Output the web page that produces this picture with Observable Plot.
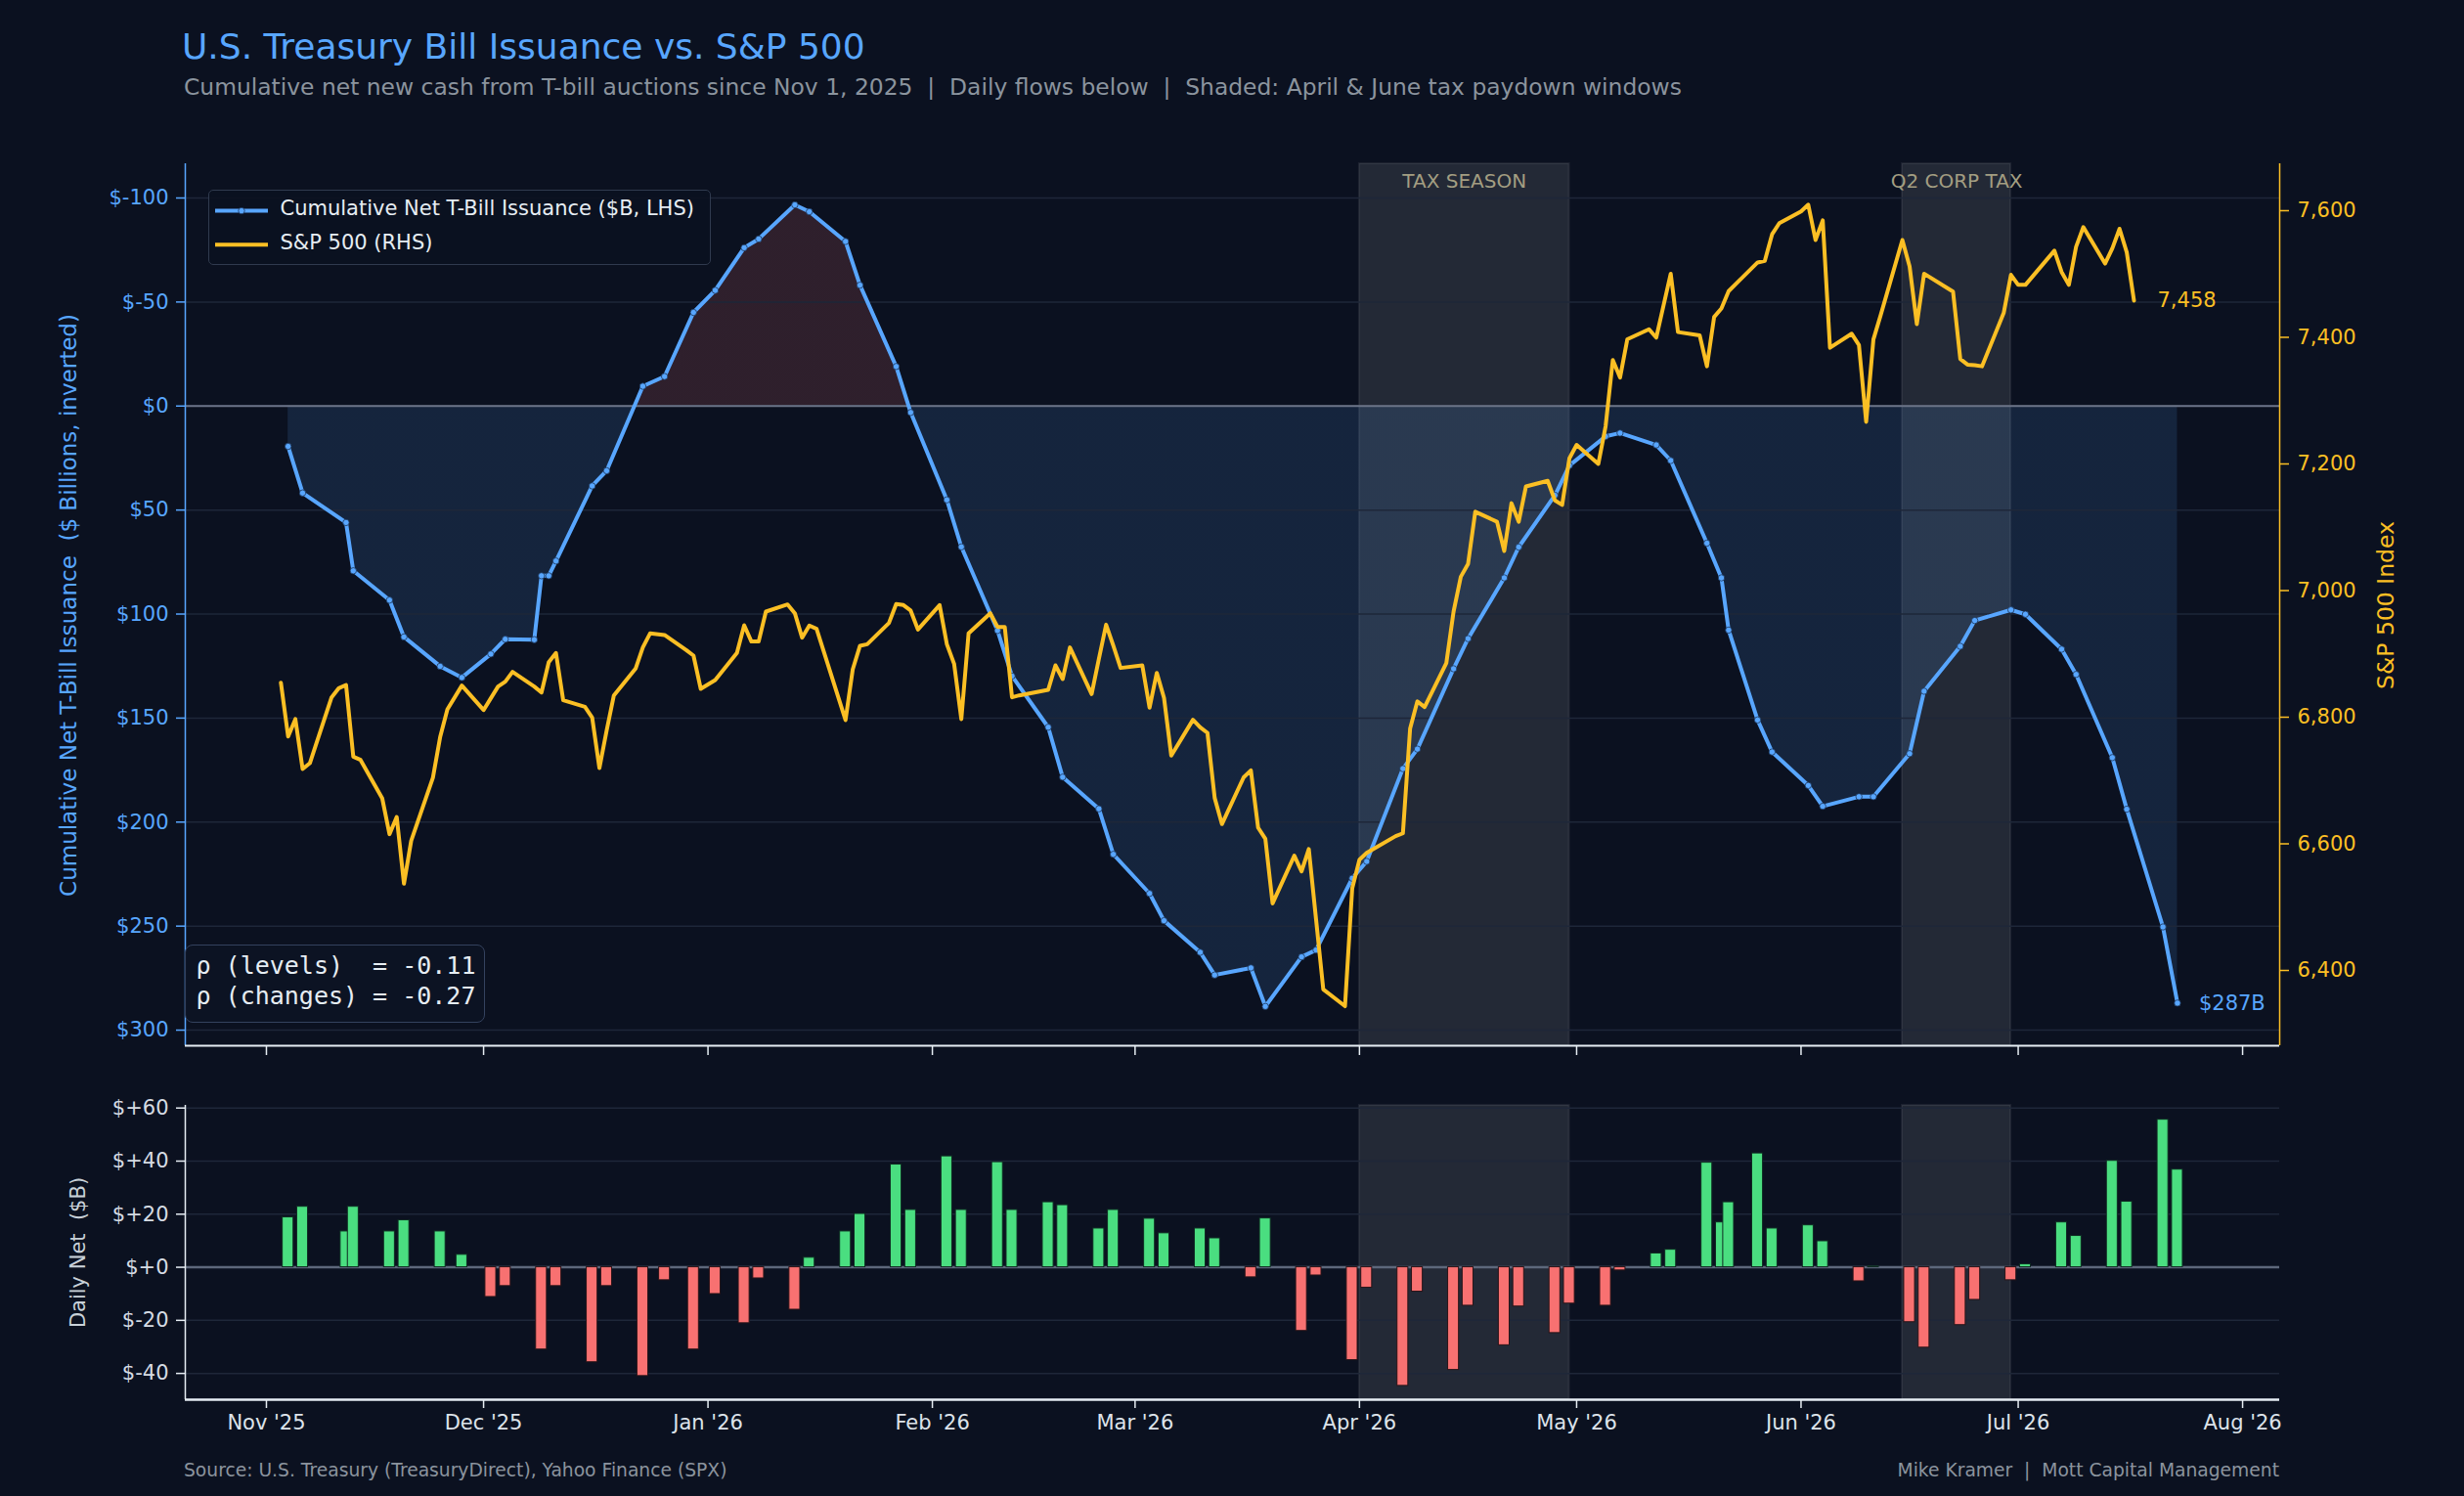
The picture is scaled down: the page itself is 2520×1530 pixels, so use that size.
<!DOCTYPE html>
<html>
<head>
<meta charset="utf-8">
<script src="https://cdn.jsdelivr.net/npm/d3@7"></script>
<script src="https://cdn.jsdelivr.net/npm/@observablehq/plot@0.6"></script>
<style>
html, body { margin: 0; padding: 0; background: #0b1120; }
#page { position: relative; width: 2520px; height: 1530px; overflow: hidden; background: #0b1120; font-family: "DejaVu Sans", sans-serif; }
.abs { position: absolute; white-space: nowrap; }
.panel { position: absolute; left: 0; }
.rot { position: absolute; white-space: nowrap; transform: translate(-50%, -50%) rotate(-90deg); }
</style>
</head>
<body>
<div id="page">
  <div class="abs" style="left:186px;top:30px;font-size:36px;line-height:36px;color:#58a6ff;">U.S. Treasury Bill Issuance vs. S&amp;P 500</div>
  <div class="abs" style="left:188px;top:78.3px;font-size:23.4px;line-height:23.4px;color:#8b949e;white-space:pre;">Cumulative net new cash from T-bill auctions since Nov 1, 2025  |  Daily flows below  |  Shaded: April &amp; June tax paydown windows</div>

  <div id="upper" class="panel" style="top:120px;"></div>
  <div id="overlay" class="panel" style="top:120px;"></div>
  <div id="lower" class="panel" style="top:1100px;"></div>

  <div class="rot" style="left:70px;top:619px;font-size:23px;line-height:23px;color:#58a6ff;white-space:pre;">Cumulative Net T-Bill Issuance  ($ Billions, inverted)</div>
  <div class="rot" style="left:2441px;top:619px;font-size:23.5px;line-height:23.5px;color:#fbbf24;">S&amp;P 500 Index</div>
  <div class="rot" style="left:80px;top:1281px;font-size:21px;line-height:21px;color:#c9d1d9;white-space:pre;">Daily Net  ($B)</div>

  <div class="abs" style="left:213px;top:194px;width:514px;height:77px;box-sizing:border-box;border:1.5px solid #303a4e;border-radius:5px;background:rgba(11,17,32,0.93);">
    <svg style="position:absolute;left:4.5px;top:9px;" width="56" height="24">
      <line x1="1" y1="11.6" x2="55" y2="11.6" stroke="#58a6ff" stroke-width="4"/>
      <circle cx="28" cy="11.6" r="3.2" fill="#58a6ff" stroke="#1d3557" stroke-width="0.8"/>
    </svg>
    <svg style="position:absolute;left:4.5px;top:43px;" width="56" height="24">
      <line x1="1" y1="12.3" x2="55" y2="12.3" stroke="#fbbf24" stroke-width="4"/>
    </svg>
    <div class="abs" style="left:72.5px;top:8px;font-size:21px;line-height:21px;color:#e6edf3;">Cumulative Net T-Bill Issuance ($B, LHS)</div>
    <div class="abs" style="left:72.5px;top:42.5px;font-size:21px;line-height:21px;color:#e6edf3;">S&amp;P 500 (RHS)</div>
  </div>

  <div class="abs" style="left:189px;top:966px;width:307px;height:80px;box-sizing:border-box;border:1.5px solid #34425e;border-radius:8px;background:rgba(13,19,35,0.93);">
    <div class="abs" style="left:10.5px;top:4.8px;font-family:'DejaVu Sans Mono',monospace;font-size:25px;line-height:31.5px;color:#e6edf3;white-space:pre;">ρ (levels)  = -0.11
ρ (changes) = -0.27</div>
  </div>

  <div class="abs" style="left:188px;top:1495px;font-size:18.7px;line-height:18.7px;color:#8b949e;">Source: U.S. Treasury (TreasuryDirect), Yahoo Finance (SPX)</div>
  <div class="abs" style="right:189px;top:1495px;font-size:18.7px;line-height:18.7px;color:#8b949e;white-space:pre;">Mike Kramer  |  Mott Capital Management</div>
</div>

<script>
// ---------------- DATA ----------------
// Auction dates (cumulative net T-bill issuance, $B)
const cumDates = [
  "2025-11-04","2025-11-06","2025-11-12","2025-11-13","2025-11-18","2025-11-20","2025-11-25","2025-11-28",
  "2025-12-02","2025-12-04","2025-12-08","2025-12-09","2025-12-10","2025-12-11","2025-12-16","2025-12-18","2025-12-23","2025-12-26","2025-12-30",
  "2026-01-02","2026-01-06","2026-01-08","2026-01-13","2026-01-15","2026-01-20","2026-01-22","2026-01-27","2026-01-29",
  "2026-02-03","2026-02-05","2026-02-10","2026-02-12","2026-02-17","2026-02-19","2026-02-24","2026-02-26",
  "2026-03-03","2026-03-05","2026-03-10","2026-03-12","2026-03-17","2026-03-19","2026-03-24","2026-03-26","2026-03-31",
  "2026-04-02","2026-04-07","2026-04-09","2026-04-14","2026-04-16","2026-04-21","2026-04-23","2026-04-28","2026-04-30",
  "2026-05-05","2026-05-07","2026-05-12","2026-05-14","2026-05-19","2026-05-21","2026-05-22","2026-05-26","2026-05-28",
  "2026-06-02","2026-06-04","2026-06-09","2026-06-11","2026-06-16","2026-06-18","2026-06-23","2026-06-25","2026-06-30",
  "2026-07-02","2026-07-07","2026-07-09","2026-07-14","2026-07-16","2026-07-21","2026-07-23"
];
const cumValues = [
  19.4,41.8,56.0,79.2,93.3,111.0,125.1,130.5,
  119.2,112.1,112.3,81.6,81.6,74.5,38.4,31.1,-9.5,-14.2,-45.0,
  -55.6,-76.1,-80.3,-96.7,-93.4,-79.1,-58.1,-19.0,3.1,
  45.1,67.7,107.9,129.8,154.4,178.4,193.6,215.5,
  234.3,247.4,262.6,273.5,270.1,288.6,264.8,261.5,227.0,
  218.9,174.3,164.9,126.3,111.8,82.6,67.8,42.9,28.6,
  14.6,13.0,18.7,26.2,65.9,82.6,107.7,150.9,166.3,
  182.4,192.4,187.8,187.8,167.1,137.1,115.5,103.1,98.0,
  100.1,116.9,129.0,169.0,193.8,250.4,287.0
];

// Daily net flows ($B)
const flowDates = [
  "2025-11-04","2025-11-06","2025-11-12","2025-11-13","2025-11-18","2025-11-20","2025-11-25","2025-11-28",
  "2025-12-02","2025-12-04","2025-12-09","2025-12-11","2025-12-16","2025-12-18","2025-12-23","2025-12-26","2025-12-30",
  "2026-01-02","2026-01-06","2026-01-08","2026-01-13","2026-01-15","2026-01-20","2026-01-22","2026-01-27","2026-01-29",
  "2026-02-03","2026-02-05","2026-02-10","2026-02-12","2026-02-17","2026-02-19","2026-02-24","2026-02-26",
  "2026-03-03","2026-03-05","2026-03-10","2026-03-12","2026-03-17","2026-03-19","2026-03-24","2026-03-26","2026-03-31",
  "2026-04-02","2026-04-07","2026-04-09","2026-04-14","2026-04-16","2026-04-21","2026-04-23","2026-04-28","2026-04-30",
  "2026-05-05","2026-05-07","2026-05-12","2026-05-14","2026-05-19","2026-05-21","2026-05-22","2026-05-26","2026-05-28",
  "2026-06-02","2026-06-04","2026-06-09","2026-06-11","2026-06-16","2026-06-18","2026-06-23","2026-06-25","2026-06-30",
  "2026-07-02","2026-07-07","2026-07-09","2026-07-14","2026-07-16","2026-07-21","2026-07-23"
];
const flowValues = [
  18.8,22.8,13.5,22.8,13.5,17.7,13.5,4.7,
  -11.2,-7.1,-31.0,-7.1,-35.8,-7.1,-41.0,-4.9,-31.0,
  -10.1,-21.1,-4.2,-16.0,3.6,13.5,20.1,38.7,21.6,
  41.8,21.6,39.6,21.6,24.5,23.4,14.6,21.6,
  18.3,12.8,14.6,10.9,-3.8,18.4,-24.0,-3.1,-35.0,
  -7.7,-44.7,-9.2,-38.7,-14.5,-29.4,-14.8,-24.8,-13.7,
  -14.5,-1.2,5.2,6.6,39.4,16.9,24.5,42.9,14.6,
  15.8,9.8,-5.3,0.3,-20.7,-30.3,-21.8,-12.3,-4.9,
  1.1,16.9,11.8,40.1,24.7,55.6,36.8
];

// S&P 500 daily close
const spxDates = [
  "2025-11-03","2025-11-04","2025-11-05","2025-11-06","2025-11-07","2025-11-10","2025-11-11","2025-11-12","2025-11-13","2025-11-14","2025-11-17","2025-11-18","2025-11-19","2025-11-20","2025-11-21","2025-11-24","2025-11-25","2025-11-26","2025-11-28",
  "2025-12-01","2025-12-02","2025-12-03","2025-12-04","2025-12-05","2025-12-08","2025-12-09","2025-12-10","2025-12-11","2025-12-12","2025-12-15","2025-12-16","2025-12-17","2025-12-18","2025-12-19","2025-12-22","2025-12-23","2025-12-24","2025-12-26","2025-12-29","2025-12-30","2025-12-31",
  "2026-01-02","2026-01-05","2026-01-06","2026-01-07","2026-01-08","2026-01-09","2026-01-12","2026-01-13","2026-01-14","2026-01-15","2026-01-16","2026-01-20","2026-01-21","2026-01-22","2026-01-23","2026-01-26","2026-01-27","2026-01-28","2026-01-29","2026-01-30",
  "2026-02-02","2026-02-03","2026-02-04","2026-02-05","2026-02-06","2026-02-09","2026-02-10","2026-02-11","2026-02-12","2026-02-13","2026-02-17","2026-02-18","2026-02-19","2026-02-20","2026-02-23","2026-02-24","2026-02-25","2026-02-26","2026-02-27",
  "2026-03-02","2026-03-03","2026-03-04","2026-03-05","2026-03-06","2026-03-09","2026-03-10","2026-03-11","2026-03-12","2026-03-13","2026-03-16","2026-03-17","2026-03-18","2026-03-19","2026-03-20","2026-03-23","2026-03-24","2026-03-25","2026-03-26","2026-03-27","2026-03-30","2026-03-31",
  "2026-04-01","2026-04-02","2026-04-06","2026-04-07","2026-04-08","2026-04-09","2026-04-10","2026-04-13","2026-04-14","2026-04-15","2026-04-16","2026-04-17","2026-04-20","2026-04-21","2026-04-22","2026-04-23","2026-04-24","2026-04-27","2026-04-28","2026-04-29","2026-04-30",
  "2026-05-01","2026-05-04","2026-05-05","2026-05-06","2026-05-07","2026-05-08","2026-05-11","2026-05-12","2026-05-13","2026-05-14","2026-05-15","2026-05-18","2026-05-19","2026-05-20","2026-05-21","2026-05-22","2026-05-26","2026-05-27","2026-05-28","2026-05-29",
  "2026-06-01","2026-06-02","2026-06-03","2026-06-04","2026-06-05","2026-06-08","2026-06-09","2026-06-10","2026-06-11","2026-06-12","2026-06-15","2026-06-16","2026-06-17","2026-06-18","2026-06-22","2026-06-23","2026-06-24","2026-06-25","2026-06-26","2026-06-29","2026-06-30",
  "2026-07-01","2026-07-02","2026-07-06","2026-07-07","2026-07-08","2026-07-09","2026-07-10","2026-07-13","2026-07-14","2026-07-15","2026-07-16","2026-07-17"
];
const spxValues = [
  6854.6,6769.6,6797,6718.2,6727.4,6831.4,6845.8,6851,6737.7,6732.6,6671.8,6615.2,6642.5,6537,6604.9,6704.3,6768.6,6812.4,6850,
  6811.3,6829.9,6848.4,6856.1,6871.6,6848.4,6839.1,6887,6901.4,6826.8,6816.5,6799.5,6719.7,6778.9,6834.5,6876.7,6910.2,6932.3,6929.8,6906,6897.3,6844.8,
  6858.7,6901.4,6945.2,6919.5,6919.5,6966.8,6978.1,6964.2,6925.6,6944.7,6939.5,6795.4,6875.7,6912.8,6915.3,6948.8,6978.7,6977.1,6968.4,6938.5,
  6977.1,6915.3,6884.4,6797,6932.3,6964.2,6942.6,6942.6,6831.4,6834.5,6843.3,6881.9,6860.3,6910.2,6836.6,6892.2,6946.2,6912.8,6877.8,
  6881.9,6815,6870,6830.4,6739.3,6795.9,6784.1,6775.3,6672.4,6631.2,6705,6716,6625.5,6607.8,6505.9,6581.3,6556.4,6591.8,6481,6370.2,6343.6,6529.8,
  6575,6585.6,6612.2,6616.6,6782.4,6825,6816.1,6885.5,6966.8,7021.8,7042.2,7124.6,7108.7,7062.6,7138,7108.7,7164.5,7173.4,7142.4,7135.3,7208.9,
  7230.1,7200,7259.4,7364,7336.5,7396.8,7412.7,7399.5,7450,7500.5,7408.3,7403,7354.2,7432.3,7445.5,7473,7518.2,7520.9,7562.6,7580.3,
  7598.9,7609.5,7553.7,7584.7,7383.5,7405.7,7387.9,7266.5,7396.8,7434.9,7553.7,7512,7420.7,7500.5,7472.1,7365.8,7356.9,7356,7354.2,7438.5,7498.7,
  7482.8,7482.8,7536.9,7503.2,7482.8,7543.1,7574.1,7516.5,7540.4,7571.4,7534.2,7458
];

// Shaded tax windows
const spanStarts = ["2026-04-01", "2026-06-15"];
const spanEnds = ["2026-04-30", "2026-06-30"];
const spanLabels = ["TAX SEASON", "Q2 CORP TAX"];

// Tick values
const monthTicks = ["2025-11-01","2025-12-01","2026-01-01","2026-02-01","2026-03-01","2026-04-01","2026-05-01","2026-06-01","2026-07-01","2026-08-01"];
const cumTicks = [-100, -50, 0, 50, 100, 150, 200, 250, 300];
const spxTicks = [6400, 6600, 6800, 7000, 7200, 7400, 7600];
const flowTicks = [-40, -20, 0, 20, 40, 60];

// ---------------- BUILD ----------------
const parse = d3.utcParse("%Y-%m-%d");
const DAY = 864e5;
const BG = "#0b1120", BLUE = "#58a6ff", GOLD = "#fbbf24", GREEN = "#4ade80", RED = "#f87171", GRID = "#1e2739", AXIS = "#e6edf3";

const cum = cumDates.map((d, i) => ({date: parse(d), value: cumValues[i]}));
const flows = flowDates.map((d, i) => ({date: parse(d), value: flowValues[i]}));
const spx = spxDates.map((d, i) => ({date: parse(d), value: spxValues[i]}));
const spans = spanStarts.map((s, i) => {
  const a = parse(s), b = parse(spanEnds[i]);
  return {start: a, end: b, mid: new Date((+a + +b) / 2), label: spanLabels[i]};
});
const months = monthTicks.map(parse);

// scale domains (axis limits)
const xDomain = [new Date(Date.UTC(2025, 9, 20, 19)), new Date(Date.UTC(2026, 7, 6, 3))];
const yCum = [-116.45, 307.5];
const ySpx = [6281.1, 7674.1];
const yFlow = [-49.9, 61.0];

const W = 2520, ML = 189, MR = 189;
const UH = 980, UMT = 47, UMB = 31;
const LH = 390, LMT = 30, LMB = 59;
const baseStyle = {background: "transparent", fontFamily: "DejaVu Sans, sans-serif", fontSize: "21px", overflow: "visible"};

const upper = Plot.plot({
  width: W, height: UH, marginLeft: ML, marginRight: MR, marginTop: UMT, marginBottom: UMB,
  style: {...baseStyle, color: BLUE},
  x: {type: "utc", domain: xDomain, axis: null, label: null},
  y: {domain: yCum, reverse: true, axis: null, label: null},
  marks: [
    Plot.rect(spans, {x1: "start", x2: "end", y1: yCum[0], y2: yCum[1], fill: "#ffffff", fillOpacity: 0.1, stroke: "#ffffff", strokeOpacity: 0.07, strokeWidth: 2}),
    Plot.areaY(cum, {x: "date", y1: 0, y2: "value", fill: "url(#cumFill)"}),
    Plot.gridY(cumTicks, {stroke: GRID, strokeOpacity: 1, strokeWidth: 1.5}),
    Plot.ruleY([0], {stroke: "#6b7488", strokeWidth: 2}),
    Plot.line(cum, {x: "date", y: "value", stroke: BLUE, strokeWidth: 4}),
    Plot.dot(cum, {x: "date", y: "value", r: 3.2, fill: BLUE, stroke: "#1d3557", strokeWidth: 0.8}),
    Plot.text(spans, {x: "mid", text: "label", frameAnchor: "top", lineAnchor: "middle", dy: 18, fill: "#a39e82", fontSize: 20}),
    Plot.text([cum[cum.length - 1]], {x: "date", y: "value", text: d => `$${Math.round(d.value)}B`, dx: 22, textAnchor: "start", fill: BLUE, fontSize: 21}),
    Plot.axisY(cumTicks, {anchor: "left", tickSize: 9, tickPadding: 8, strokeWidth: 1.5, tickFormat: d => "$" + d, stroke: BLUE, fill: BLUE, fontSize: 21, label: null}),
    Plot.axisX(months, {anchor: "bottom", tickSize: 10, strokeWidth: 1.5, tickFormat: () => "", stroke: AXIS, label: null}),
    Plot.ruleX([xDomain[0]], {stroke: BLUE, strokeWidth: 1.5}),
    Plot.ruleY([yCum[1]], {stroke: AXIS, strokeWidth: 2.2})
  ]
});

// two-tone fill (red above zero line, blue below), positioned from the y scale
const y0 = upper.scale("y").apply(0);
const ns = "http://www.w3.org/2000/svg";
const defs = document.createElementNS(ns, "defs");
const off = (y0 / UH).toFixed(5);
defs.innerHTML = `<linearGradient id="cumFill" gradientUnits="userSpaceOnUse" x1="0" y1="0" x2="0" y2="${UH}">
  <stop offset="${off}" stop-color="${RED}" stop-opacity="0.15"/>
  <stop offset="${off}" stop-color="${BLUE}" stop-opacity="0.13"/>
</linearGradient>`;
upper.insertBefore(defs, upper.firstChild);
document.getElementById("upper").appendChild(upper);

const overlay = Plot.plot({
  width: W, height: UH, marginLeft: ML, marginRight: MR, marginTop: UMT, marginBottom: UMB,
  style: {...baseStyle, color: GOLD},
  x: {type: "utc", domain: xDomain, axis: null, label: null},
  y: {domain: ySpx, axis: null, label: null},
  marks: [
    Plot.line(spx, {x: "date", y: "value", stroke: GOLD, strokeWidth: 4}),
    Plot.text([spx[spx.length - 1]], {x: "date", y: "value", text: d => d3.format(",")(d.value), dx: 24, textAnchor: "start", fill: GOLD, fontSize: 21}),
    Plot.axisY(spxTicks, {anchor: "right", tickSize: 9, tickPadding: 9, strokeWidth: 1.5, tickFormat: d3.format(","), stroke: GOLD, fill: GOLD, fontSize: 21, label: null}),
    Plot.ruleX([xDomain[1]], {stroke: GOLD, strokeWidth: 1.5})
  ]
});
document.getElementById("overlay").appendChild(overlay);

const lower = Plot.plot({
  width: W, height: LH, marginLeft: ML, marginRight: MR, marginTop: LMT, marginBottom: LMB,
  style: {...baseStyle, color: AXIS},
  x: {type: "utc", domain: xDomain, axis: null, label: null},
  y: {domain: yFlow, axis: null, label: null},
  marks: [
    Plot.rect(spans, {x1: "start", x2: "end", y1: yFlow[0], y2: yFlow[1], fill: "#ffffff", fillOpacity: 0.1, stroke: "#ffffff", strokeOpacity: 0.07, strokeWidth: 2}),
    Plot.gridY(flowTicks, {stroke: GRID, strokeOpacity: 1, strokeWidth: 1.5}),
    Plot.ruleY([0], {stroke: "#5d677b", strokeWidth: 2.5}),
    Plot.rect(flows, {filter: d => d.value >= 0, x1: d => new Date(+d.date - 0.75 * DAY), x2: d => new Date(+d.date + 0.75 * DAY), y1: 0, y2: "value", fill: GREEN, stroke: "#0f2a22", strokeWidth: 1}),
    Plot.rect(flows, {filter: d => d.value < 0, x1: d => new Date(+d.date - 0.75 * DAY), x2: d => new Date(+d.date + 0.75 * DAY), y1: 0, y2: "value", fill: RED, stroke: "#2a1418", strokeWidth: 1}),
    Plot.axisY(flowTicks, {anchor: "left", tickSize: 9, tickPadding: 8, strokeWidth: 1.5, tickFormat: d => "$" + (d >= 0 ? "+" : "") + d, stroke: AXIS, fill: "#d5dbe3", fontSize: 21, label: null}),
    Plot.axisX(months, {anchor: "bottom", tickSize: 9, tickPadding: 7, strokeWidth: 1.5, tickFormat: d3.utcFormat("%b '%y"), stroke: AXIS, fill: "#dde3ea", fontSize: 21, label: null}),
    Plot.ruleX([xDomain[0]], {stroke: AXIS, strokeWidth: 1.5}),
    Plot.ruleY([yFlow[0]], {stroke: AXIS, strokeWidth: 2.5})
  ]
});
document.getElementById("lower").appendChild(lower);
</script>
</body>
</html>
